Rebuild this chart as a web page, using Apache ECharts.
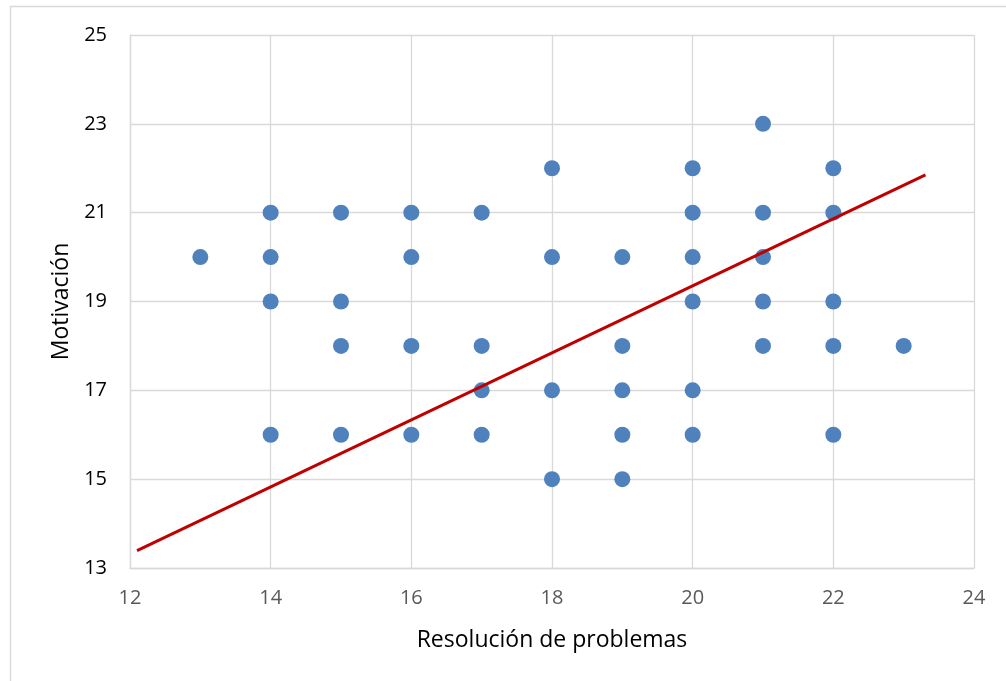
<!DOCTYPE html>
<html><head><meta charset="utf-8">
<script src="https://cdn.jsdelivr.net/npm/echarts@6/dist/echarts.min.js"></script>
<style>html,body{margin:0;padding:0;background:#fff}#c{width:1006px;height:681px}</style>
</head><body><div id="c"></div>
<script>
const xValues = [13,14,14,14,14,15,15,15,15,16,16,16,16,17,17,17,17,18,18,18,18,19,19,19,19,19,20,20,20,20,20,20,21,21,21,21,21,22,22,22,22,22,23];
const yValues = [20,21,20,19,16,21,19,18,16,21,20,18,16,21,18,17,16,22,20,17,15,20,18,17,16,15,22,21,20,19,17,16,23,21,20,19,18,22,21,19,18,16,18];
const trendX = [12.1, 23.31];
const trendY = [13.39, 21.85];
const xTicks = [12,14,16,18,20,22,24];
const yTicks = [13,15,17,19,21,23,25];
const xTitle = 'Resolución de problemas';
const yTitle = 'Motivación';

const points = xValues.map((x,i)=>[x,yValues[i]]);
const trend = trendX.map((x,i)=>[x,trendY[i]]);
const font = '"Open Sans", "Liberation Sans", sans-serif';
const chart = echarts.init(document.getElementById('c'), null, {renderer:'canvas'});
chart.setOption({
  animation:false,
  backgroundColor:'#fff',
  graphic:[{type:'rect', shape:{x:10.5,y:6.5,width:1100,height:800}, style:{fill:'none', stroke:'#D9D9D9', lineWidth:1.3}, z:-1}],
  grid:{left:130, top:35, right:32, bottom:113, containLabel:false},
  xAxis:{type:'value', min:xTicks[0], max:xTicks[xTicks.length-1], interval:2,
    name:xTitle, nameLocation:'middle', nameGap:61,
    nameTextStyle:{color:'#000', fontSize:23, fontFamily:font},
    axisLine:{show:true, lineStyle:{color:'#D9D9D9', width:1.3}},
    axisTick:{show:false},
    axisLabel:{color:'#595959', fontSize:20, fontFamily:font, margin:20},
    splitLine:{show:true, lineStyle:{color:'#D9D9D9', width:1.3}}},
  yAxis:{type:'value', min:yTicks[0], max:yTicks[yTicks.length-1], interval:2,
    name:yTitle, nameLocation:'middle', nameGap:56, nameRotate:90,
    nameTextStyle:{color:'#000', fontSize:23, fontFamily:font},
    axisLine:{show:true, lineStyle:{color:'#D9D9D9', width:1.3}},
    axisTick:{show:false},
    axisLabel:{color:'#000', fontSize:20, fontFamily:font, margin:23},
    splitLine:{show:true, lineStyle:{color:'#D9D9D9', width:1.3}}},
  series:[
    {type:'scatter', data:points, symbolSize:16, itemStyle:{color:'#4F81BD', opacity:1}, z:2},
    {type:'line', data:trend, symbol:'none', lineStyle:{color:'#C00000', width:3}, z:3}
  ]
});
</script></body></html>
